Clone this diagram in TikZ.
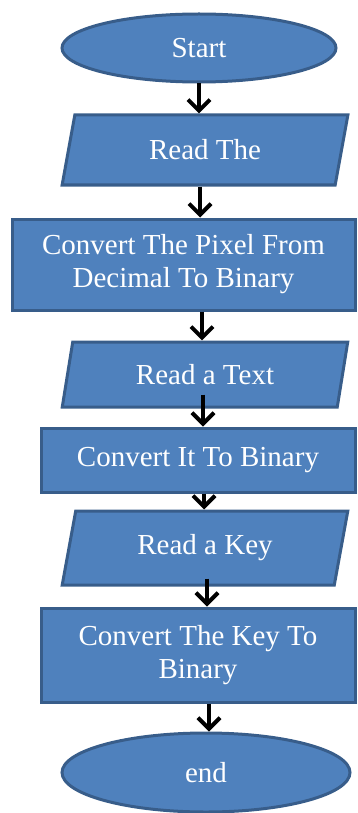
\documentclass[tikz,border=0pt]{standalone}
\usepackage{fontspec}
\setmainfont{LiberationSerif}[Extension=.ttf,UprightFont=*-Regular]
\usetikzlibrary{shapes.geometric,arrows.meta}
\definecolor{boxblue}{HTML}{4F81BD}
\definecolor{rimblue}{HTML}{385D8A}
\begin{document}
\begin{tikzpicture}[x=1pt,y=-1pt,
  every node/.style={fill=boxblue,draw=rimblue,line width=3pt,text=white,
    font=\rmfamily\fontsize{29}{33}\selectfont,align=center,inner sep=0pt},
  term/.style={ellipse},
  io/.style={trapezium,trapezium left angle=75,trapezium right angle=105,
    trapezium stretches=true},
  proc/.style={rectangle},
  flow/.style={line width=4pt,-{Straight Barb[length=11pt,width=22pt]}}]
\useasboundingbox (0,0) rectangle (357,813);
\node[term,minimum width=274,minimum height=68] (start) at (199,48) {Start};
\node[io,minimum width=286,minimum height=70] (readimg) at (205,150) {Read The};
\node[proc,minimum width=343,minimum height=91] (pix2bin) at (183.5,264.5) {Convert The Pixel From\\Decimal To Binary};
\node[io,minimum width=286,minimum height=65] (readtxt) at (205,374.5) {Read a Text};
\node[proc,minimum width=314,minimum height=64] (txt2bin) at (198,460) {Convert It To Binary};
\node[io,minimum width=286,minimum height=74] (readkey) at (205,548) {Read a Key};
\node[proc,minimum width=314,minimum height=94] (key2bin) at (198,655) {Convert The Key To\\Binary};
\node[term,minimum width=288,minimum height=79] (end) at (206,772.5) {end};
\draw[flow] (start.south) -- (start.south |- readimg.north);
\draw[flow] ([xshift=1pt]readimg.south -| start.south) -- ([xshift=1pt]start.south |- pix2bin.north);
\draw[flow] ([xshift=3pt]start.south |- pix2bin.south) -- ([xshift=3pt]start.south |- readtxt.north);
\draw[flow] ([xshift=4pt,yshift=14pt]start.south |- readtxt.south) -- ([xshift=4pt]start.south |- txt2bin.north);
\draw[flow] ([xshift=5pt]start.south |- txt2bin.south) -- ([xshift=5pt]start.south |- readkey.north);
\draw[flow] ([xshift=8pt,yshift=8pt]start.south |- readkey.south) -- ([xshift=8pt]start.south |- key2bin.north);
\draw[flow] ([xshift=10pt]start.south |- key2bin.south) -- ([xshift=10pt]start.south |- end.north);
\end{tikzpicture}
\end{document}
